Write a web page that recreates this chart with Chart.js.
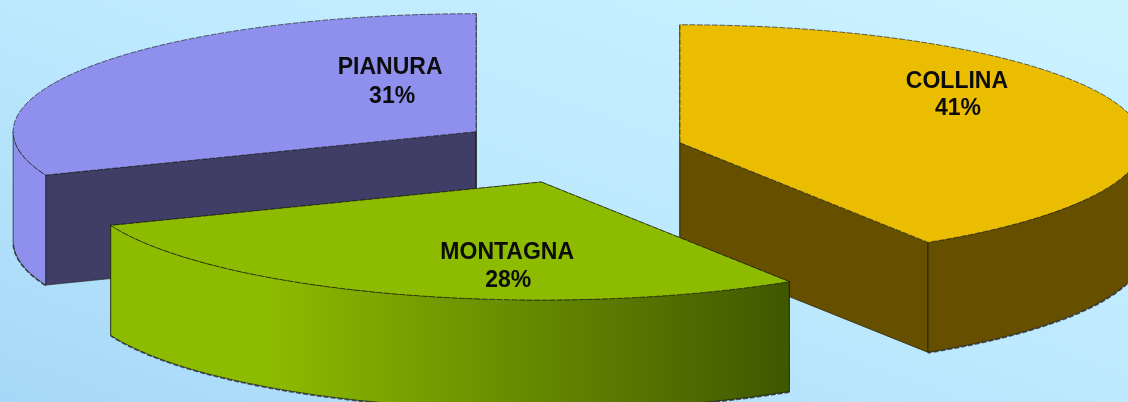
<!DOCTYPE html>
<html>
<head>
<meta charset="utf-8">
<style>
html,body{margin:0;padding:0;width:1128px;height:402px;overflow:hidden;
background:linear-gradient(20deg,#a6d8f7 0%,#bde9fe 50%,#ccf3ff 100%);}
canvas{display:block;filter:blur(0.45px);}
</style>
<script src="https://cdn.jsdelivr.net/npm/chart.js@4"></script>
</head>
<body>
<canvas id="c" width="1128" height="402"></canvas>
<script>
const categories = ['COLLINA', 'MONTAGNA', 'PIANURA'];
const shares = [41, 28, 31];

const topColors = ['#EBBD00', '#8DBB00', '#8F8FEE'];
const radialWallColors = ['#665000', '#3F5700', '#403E66'];
const outerWallColors = ['#665000', null, '#8F8FEE'];
const explode = [102, 132, 128];
const labelShift = [[277, -61, 278, -34], [-34, 71, -33, 99], [-86, -64, -84, -35]];
const tilt = 118 / 463, depth = 110, moveX = 18, moveY = 150;

function toScreen(chart, x, y) {
  const midY = (chart.chartArea.top + chart.chartArea.bottom) / 2;
  return [x + moveX, moveY + (y - midY) * tilt];
}
function facePath(ctx, chart, el, dz) {
  const [ax, ay] = toScreen(chart, el.x, el.y);
  ctx.beginPath();
  ctx.moveTo(ax, ay + dz);
  ctx.ellipse(ax, ay + dz, el.outerRadius, el.outerRadius * tilt, 0, el.startAngle, el.endAngle);
  ctx.closePath();
}
function radialWall(ctx, chart, el, angle) {
  const [ax, ay] = toScreen(chart, el.x, el.y);
  const ex = ax + el.outerRadius * Math.cos(angle);
  const ey = ay + el.outerRadius * tilt * Math.sin(angle);
  ctx.beginPath();
  ctx.moveTo(ax, ay); ctx.lineTo(ex, ey); ctx.lineTo(ex, ey + depth); ctx.lineTo(ax, ay + depth);
  ctx.closePath();
}
function outerWall(ctx, chart, el, a0, a1) {
  const [ax, ay] = toScreen(chart, el.x, el.y);
  const rx = el.outerRadius, ry = el.outerRadius * tilt;
  ctx.beginPath();
  ctx.ellipse(ax, ay, rx, ry, 0, a0, a1);
  ctx.ellipse(ax, ay + depth, rx, ry, 0, a1, a0, true);
  ctx.closePath();
}
const pie3d = {
  id: 'pie3d',
  afterDatasetsUpdate(chart) {
    chart.getDatasetMeta(0).data.forEach((el, i) => {
      const mid = (el.startAngle + el.endAngle) / 2;
      el.x += Math.cos(mid) * explode[i];
      el.y += Math.sin(mid) * explode[i];
    });
  },
  beforeDatasetsDraw(chart) {
    const ctx = chart.ctx;
    const arcs = chart.getDatasetMeta(0).data;
    [0, 2, 1].forEach(i => {
      const el = arcs[i];
      ctx.save();
      ctx.strokeStyle = 'rgba(20,20,10,0.6)';
      ctx.lineWidth = 1;
      [el.startAngle, el.endAngle].forEach(a => {
        radialWall(ctx, chart, el, a);
        ctx.fillStyle = radialWallColors[i];
        ctx.fill();
        ctx.stroke();
      });
      const a0 = Math.max(el.startAngle, 0), a1 = Math.min(el.endAngle, Math.PI);
      if (a1 > a0) {
        outerWall(ctx, chart, el, a0, a1);
        let fill = outerWallColors[i];
        if (!fill) {
          const [ax] = toScreen(chart, el.x, el.y);
          const g = ctx.createLinearGradient(ax - 430, 0, ax + 250, 0);
          g.addColorStop(0, '#8DBB00');
          g.addColorStop(0.23, '#8DBB00');
          g.addColorStop(1, '#3F5700');
          fill = g;
        }
        ctx.fillStyle = fill;
        ctx.fill();
        ctx.strokeStyle = 'rgba(20,20,10,0.65)';
        ctx.stroke();
        // rough dark rim along the foot of the wall
        const [ax, ay] = toScreen(chart, el.x, el.y);
        ctx.beginPath();
        ctx.ellipse(ax, ay + depth + 0.5, el.outerRadius, el.outerRadius * tilt, 0, a0, a1);
        ctx.setLineDash([5, 2]);
        ctx.lineWidth = 1.6;
        ctx.strokeStyle = 'rgba(40,40,40,0.75)';
        ctx.stroke();
        ctx.setLineDash([]);
      }
      ctx.restore();
    });
    ctx.save();
    const midY = (chart.chartArea.top + chart.chartArea.bottom) / 2;
    ctx.translate(moveX, moveY);
    ctx.scale(1, tilt);
    ctx.translate(0, -midY);
  },
  afterDatasetsDraw(chart) {
    const ctx = chart.ctx;
    ctx.restore();
    const arcs = chart.getDatasetMeta(0).data;
    arcs.forEach((el, i) => {
      ctx.save();
      facePath(ctx, chart, el, 0);
      ctx.setLineDash([6, 1.5]);
      ctx.lineWidth = 1;
      ctx.strokeStyle = 'rgba(25,25,25,0.65)';
      ctx.stroke();
      ctx.restore();
      const [ax, ay] = toScreen(chart, el.x, el.y);
      const s = labelShift[i];
      ctx.save();
      ctx.fillStyle = '#0c0c0c';
      ctx.font = 'bold 23px "Liberation Sans", Arial, sans-serif';
      ctx.textAlign = 'center';
      ctx.textBaseline = 'middle';
      ctx.fillText(categories[i], ax + s[0], ay + s[1]);
      ctx.fillText(shares[i] + '%', ax + s[2], ay + s[3]);
      ctx.restore();
    });
  }
};
new Chart(document.getElementById('c'), {
  type: 'pie',
  data: {
    labels: categories,
    datasets: [{ data: shares, backgroundColor: topColors, borderWidth: 0 }]
  },
  options: {
    responsive: false,
    animation: false,
    radius: 463,
    rotation: 0,
    layout: { padding: 0 },
    plugins: { legend: { display: false }, tooltip: { enabled: false } }
  },
  plugins: [pie3d]
});
</script>
</body>
</html>
